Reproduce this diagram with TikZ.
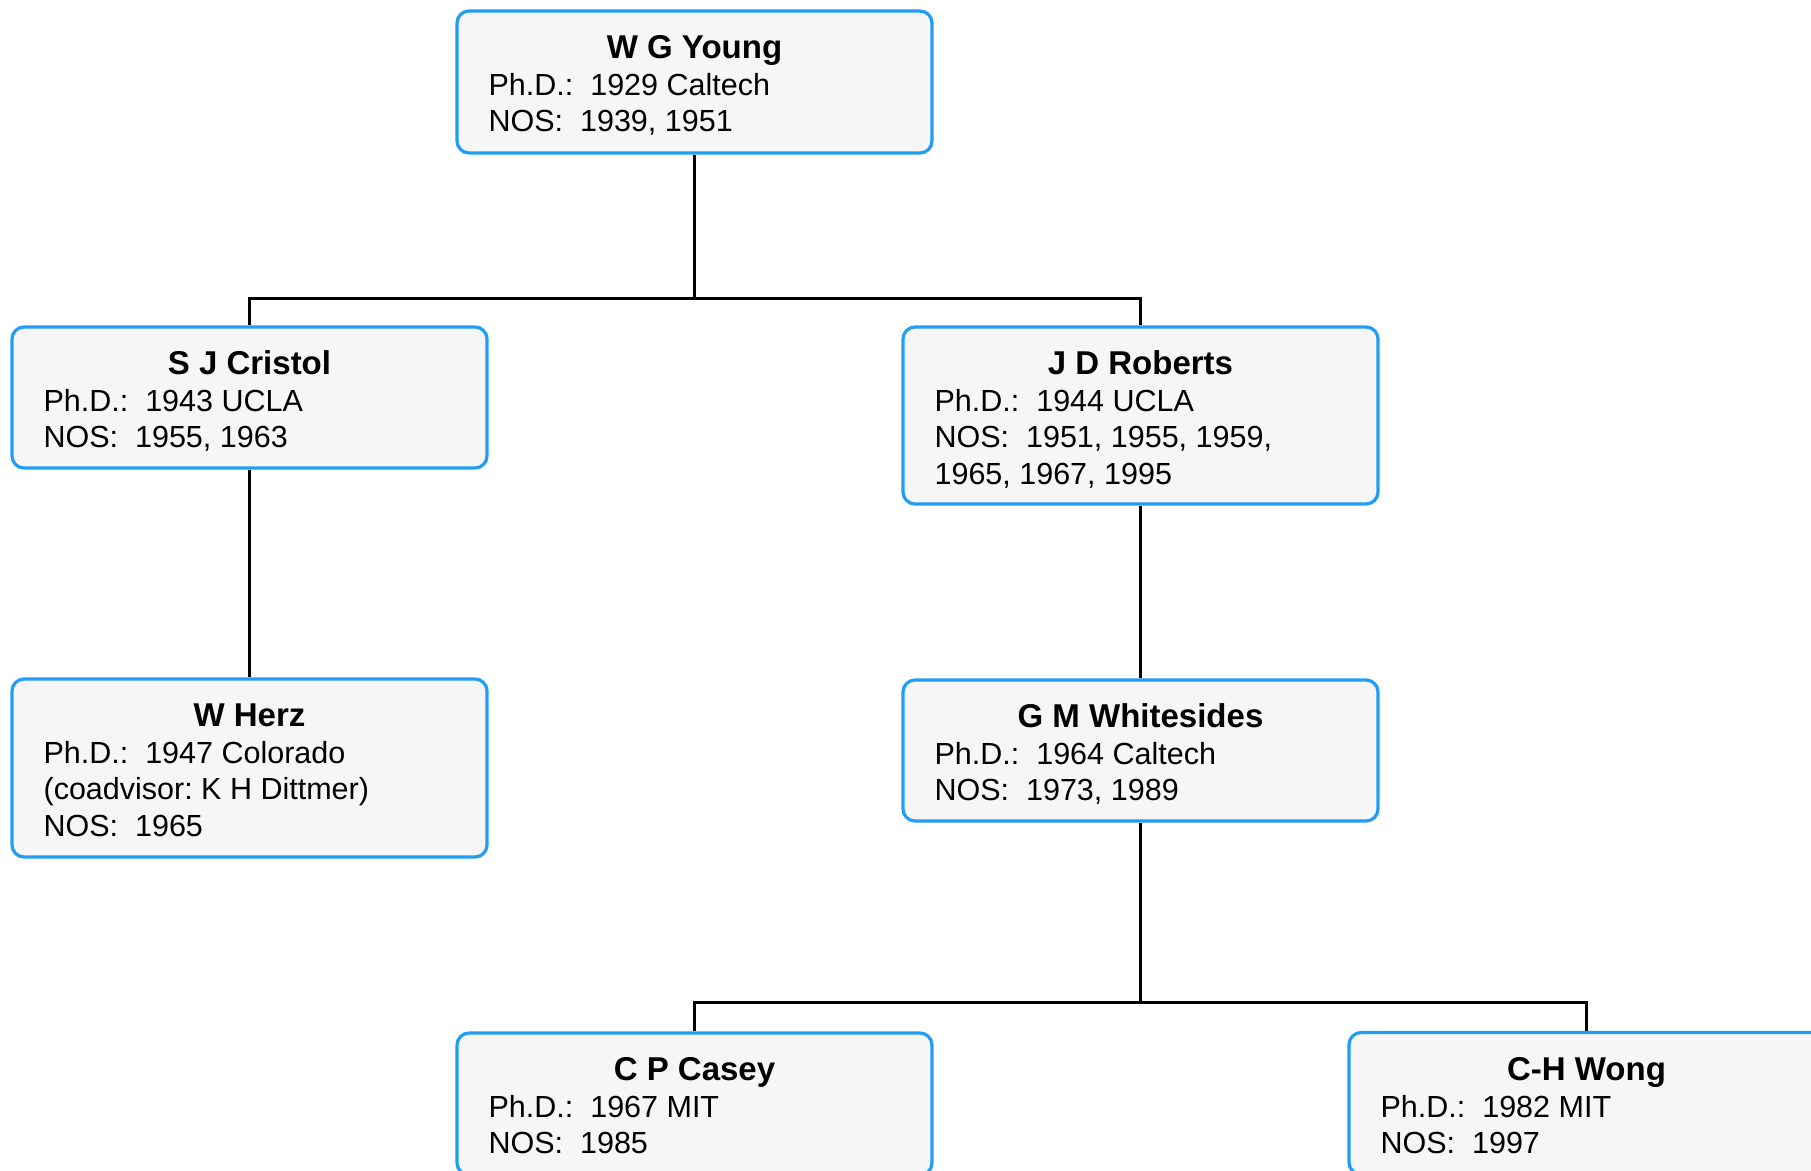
\documentclass[tikz,border=0pt]{standalone}
\usepackage{fontspec}
\setmainfont{Liberation Sans}
\definecolor{boxblue}{RGB}{33,158,243}
\definecolor{boxfill}{RGB}{246,246,246}
\tikzset{
  pbox/.style={draw=boxblue, line width=3.2pt, fill=boxfill, rounded corners=12pt,
    minimum width=475pt, inner sep=0pt, rectangle},
  ptitle/.style={inner sep=0pt, font=\fontsize{33}{37}\selectfont\bfseries},
  pbody/.style={inner sep=0pt, font=\fontsize{30.5}{36.2}\selectfont\frenchspacing},
  link/.style={draw=black, line width=3pt}
}
\newcommand\ppl[5]{%
  \node[pbox, minimum height=#3] (#1) at (#2) {};
  \node[ptitle, anchor=base] (#1t) at ([yshift=-49.5pt]#1.north) {#4};
  \node[pbody, anchor=base west] (#1b) at ([xshift=33pt,yshift=-86.3pt]#1.north west)
    {\renewcommand\arraystretch{1}\begin{tabular}[t]{@{}l@{}}#5\end{tabular}};
}
\begin{document}
\begin{tikzpicture}[x=1pt,y=-1pt]
\useasboundingbox (0,0) rectangle (1811,1170);
\clip (0,0) rectangle (1811,1170);
\coordinate (j1) at (694.5,298);
\coordinate (j2) at (1140.5,1002);
\ppl{young}{694.5,82}{142pt}{W G Young}{Ph.D.:\ \ 1929 Caltech\\NOS:\ \ 1939, 1951}
\ppl{cristol}{249.5,397.5}{141pt}{S J Cristol}{Ph.D.:\ \ 1943 UCLA\\NOS:\ \ 1955, 1963}
\ppl{roberts}{1140.5,415.5}{177pt}{J D Roberts}{Ph.D.:\ \ 1944 UCLA\\NOS:\ \ 1951, 1955, 1959,\\1965, 1967, 1995}
\ppl{herz}{249.5,768}{178pt}{W Herz}{Ph.D.:\ \ 1947 Colorado\\(coadvisor: K H Dittmer)\\NOS:\ \ 1965}
\ppl{whitesides}{1140.5,750.5}{141pt}{G M Whitesides}{Ph.D.:\ \ 1964 Caltech\\NOS:\ \ 1973, 1989}
\ppl{casey}{694.5,1104}{142pt}{C P Casey}{Ph.D.:\ \ 1967 MIT\\NOS:\ \ 1985}
\ppl{wong}{1586.5,1103.5}{142pt}{C-H Wong}{Ph.D.:\ \ 1982 MIT\\NOS:\ \ 1997}
\draw[link] (young.south) -- (j1);
\draw[link] (cristol.north) |- (j1) -| (roberts.north);
\draw[link] (cristol.south) -- (herz.north);
\draw[link] (roberts.south) -- (whitesides.north);
\draw[link] (whitesides.south) -- (j2);
\draw[link] (casey.north) |- (j2) -| (wong.north);
\end{tikzpicture}
\end{document}
